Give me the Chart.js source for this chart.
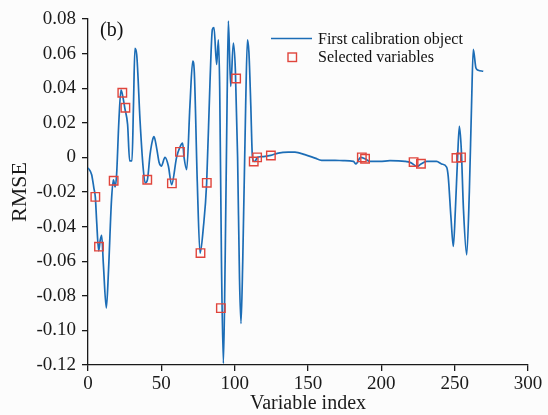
<!DOCTYPE html>
<html>
<head>
<meta charset="utf-8">
<script src="https://cdn.jsdelivr.net/npm/chart.js@4.4.1/dist/chart.umd.min.js"></script>
<style>
  html, body { margin: 0; padding: 0; background: #fcfcfc; }
  #wrap { width: 548px; height: 415px; position: relative; }
</style>
</head>
<body>
<div id="wrap"><canvas id="c" width="548" height="415"></canvas></div>
<script>
// ---- data ----
const xIndex = [
  0,2.5,4,5,5.9,7.3,8.3,9.3,10.5,12.5,
  14,16,17.3,18.5,19.5,21,22.5,24,25.2,27,
  28.4,30,31,32,33.2,35.5,37.5,39,40.5,42.3,
  44,45,46.8,48.5,50,52.5,54.8,57,60.4,62.7,
  64.5,65.5,67.3,69.5,71.4,72.5,74.5,76.4,78.6,80.9,
  83.2,84.8,85.9,87.7,88.9,89.8,91,92.3,93.5,94.8,
  95.7,97.3,99.1,100.5,102,103.3,104.3,105.5,107.5,108.7,
  109.7,111,112,112.8,113.9,115.4,118,120.7,124.6,129.7,
  136.6,141.1,147.9,154.8,159.3,168.4,174,181,182.7,185.9,
  188.9,192.3,199,205.9,216.1,220,224.5,227,230.9,237.7,
  241.1,244.5,245.6,247.5,249.1,250.5,252,253.2,254.5,256,
  258.2,260,261.5,262.7,264.5,266.1,269.5
];
const rmse = [
  -0.006,-0.010,-0.0177,-0.023,-0.037,-0.054,-0.048,-0.045,-0.062,-0.087,
  -0.065,-0.025,-0.013,-0.017,-0.010,0.020,0.039,0.034,0.028,0.019,
  -0.002,-0.002,0.030,0.063,0.0595,0.021,-0.005,-0.0148,-0.013,0.0016,
  0.010,0.012,0.0054,-0.003,-0.005,0.000,-0.005,-0.0158,0.000,0.006,
  0.0083,0.000,-0.0071,0.030,0.0556,0.049,-0.0139,-0.0554,-0.041,-0.0148,
  0.044,0.074,0.075,0.0537,0.068,0.040,-0.060,-0.119,-0.060,0.030,
  0.0788,0.041,0.066,0.050,0.000,-0.070,-0.096,-0.060,0.030,0.068,
  0.061,0.030,0.0016,-0.0020,-0.0023,0.000,0.0004,0.0006,0.0012,0.0025,
  0.0030,0.0030,0.0016,-0.0004,-0.0017,-0.0017,-0.0019,-0.0023,-0.0038,0.000,
  -0.0008,-0.0023,-0.0023,-0.0019,-0.0023,-0.0030,-0.0052,-0.0038,-0.0023,-0.0023,
  -0.0038,-0.0056,-0.011,-0.035,-0.0515,-0.030,0.000,0.018,0.005,-0.030,
  -0.0563,-0.020,0.030,0.0624,0.0517,0.0504,0.0498
];
const selIndex = [5,7.5,17.5,23.4,25.5,40.4,57.2,62.7,76.7,81,90.6,101,113,115.3,124.7,186.7,188.9,222,227,251.2,254.3];
const selRmse  = [-0.0228,-0.0516,-0.0135,0.0374,0.0287,-0.0129,-0.015,0.0032,-0.0553,-0.0147,-0.0871,0.0456,-0.0024,0.0000,0.0011,0.0000,-0.0008,-0.0027,-0.0037,-0.0003,0.0000];
const yTickLabels = ['-0.12','-0.10','-0.08','-0.06','-0.04','-0.02','0','0.02','0.04','0.06','0.08'];
const xTickLabels = ['0','50','100','150','200','250','300'];
const seriesNames = ['First calibration object', 'Selected variables'];
const panelLabel = '(b)';
const xTitle = 'Variable index';
const yTitle = 'RMSE';

// ---- styles ----
const LINE_COLOR = '#1c6db6';
const SQ_COLOR = '#e0453c';
const AXIS_COLOR = '#1a1a1a';
const FONT = '"Liberation Serif", "Times New Roman", serif';

const legendPlugin = {
  id: 'customLegend',
  afterDraw(chart) {
    const ctx = chart.ctx;
    ctx.save();
    ctx.strokeStyle = LINE_COLOR;
    ctx.lineWidth = 1.7;
    ctx.beginPath();
    ctx.moveTo(271, 38.5);
    ctx.lineTo(312, 38.5);
    ctx.stroke();
    ctx.strokeStyle = SQ_COLOR;
    ctx.lineWidth = 1.4;
    ctx.strokeRect(288, 53, 8.5, 8.5);
    ctx.fillStyle = '#111';
    ctx.font = '16px ' + FONT;
    ctx.textBaseline = 'alphabetic';
    ctx.textAlign = 'left';
    ctx.fillText(seriesNames[0], 318, 44);
    ctx.fillText(seriesNames[1], 318, 62);
    ctx.font = '20px ' + FONT;
    ctx.fillText(panelLabel, 100, 36);
    ctx.restore();
  }
};

const lineData = xIndex.map((x, i) => ({ x: x, y: rmse[i] }));
const selData = selIndex.map((x, i) => ({ x: x, y: selRmse[i] }));

new Chart(document.getElementById('c'), {
  type: 'line',
  data: {
    datasets: [
      {
        label: seriesNames[1],
        data: selData,
        showLine: false,
        pointStyle: 'rect',
        pointRadius: 6,
        pointBorderWidth: 1.4,
        pointBorderColor: SQ_COLOR,
        pointBackgroundColor: 'rgba(0,0,0,0)',
        order: 0
      },
      {
        label: seriesNames[0],
        data: lineData,
        borderColor: LINE_COLOR,
        borderWidth: 1.7,
        pointRadius: 0,
        cubicInterpolationMode: 'monotone',
        fill: false,
        order: 1
      }
    ]
  },
  options: {
    responsive: false,
    animation: false,
    devicePixelRatio: 1,
    layout: { padding: { top: 19, right: 20, left: 0, bottom: 0 } },
    plugins: { legend: { display: false }, tooltip: { enabled: false } },
    scales: {
      x: {
        type: 'linear',
        min: 0, max: 300,
        ticks: {
          stepSize: 50,
          color: AXIS_COLOR,
          font: { family: FONT, size: 19 },
          padding: 2,
          maxRotation: 0,
          callback: (v, i) => xTickLabels[i]
        },
        grid: { drawOnChartArea: false, drawTicks: true, tickLength: 6, color: AXIS_COLOR, lineWidth: 1.3 },
        border: { display: true, color: AXIS_COLOR, width: 1.3 },
        title: { display: true, text: xTitle, color: AXIS_COLOR, font: { family: FONT, size: 20, lineHeight: 1 }, padding: { top: 0, bottom: 1 } },
        afterFit: (s) => { s.height = 50; }
      },
      y: {
        type: 'linear',
        min: -0.12, max: 0.08,
        ticks: {
          stepSize: 0.02,
          color: AXIS_COLOR,
          font: { family: FONT, size: 19 },
          padding: 6,
          callback: (v, i) => yTickLabels[i]
        },
        grid: { drawOnChartArea: false, drawTicks: true, tickLength: 6, color: AXIS_COLOR, lineWidth: 1.3 },
        border: { display: true, color: AXIS_COLOR, width: 1.3 },
        title: { display: true, text: yTitle, color: AXIS_COLOR, font: { family: FONT, size: 22, lineHeight: 1 }, padding: { top: 9, bottom: 0 } },
        afterFit: (s) => { s.width = 88; }
      }
    }
  },
  plugins: [legendPlugin]
});
</script>
</body>
</html>
